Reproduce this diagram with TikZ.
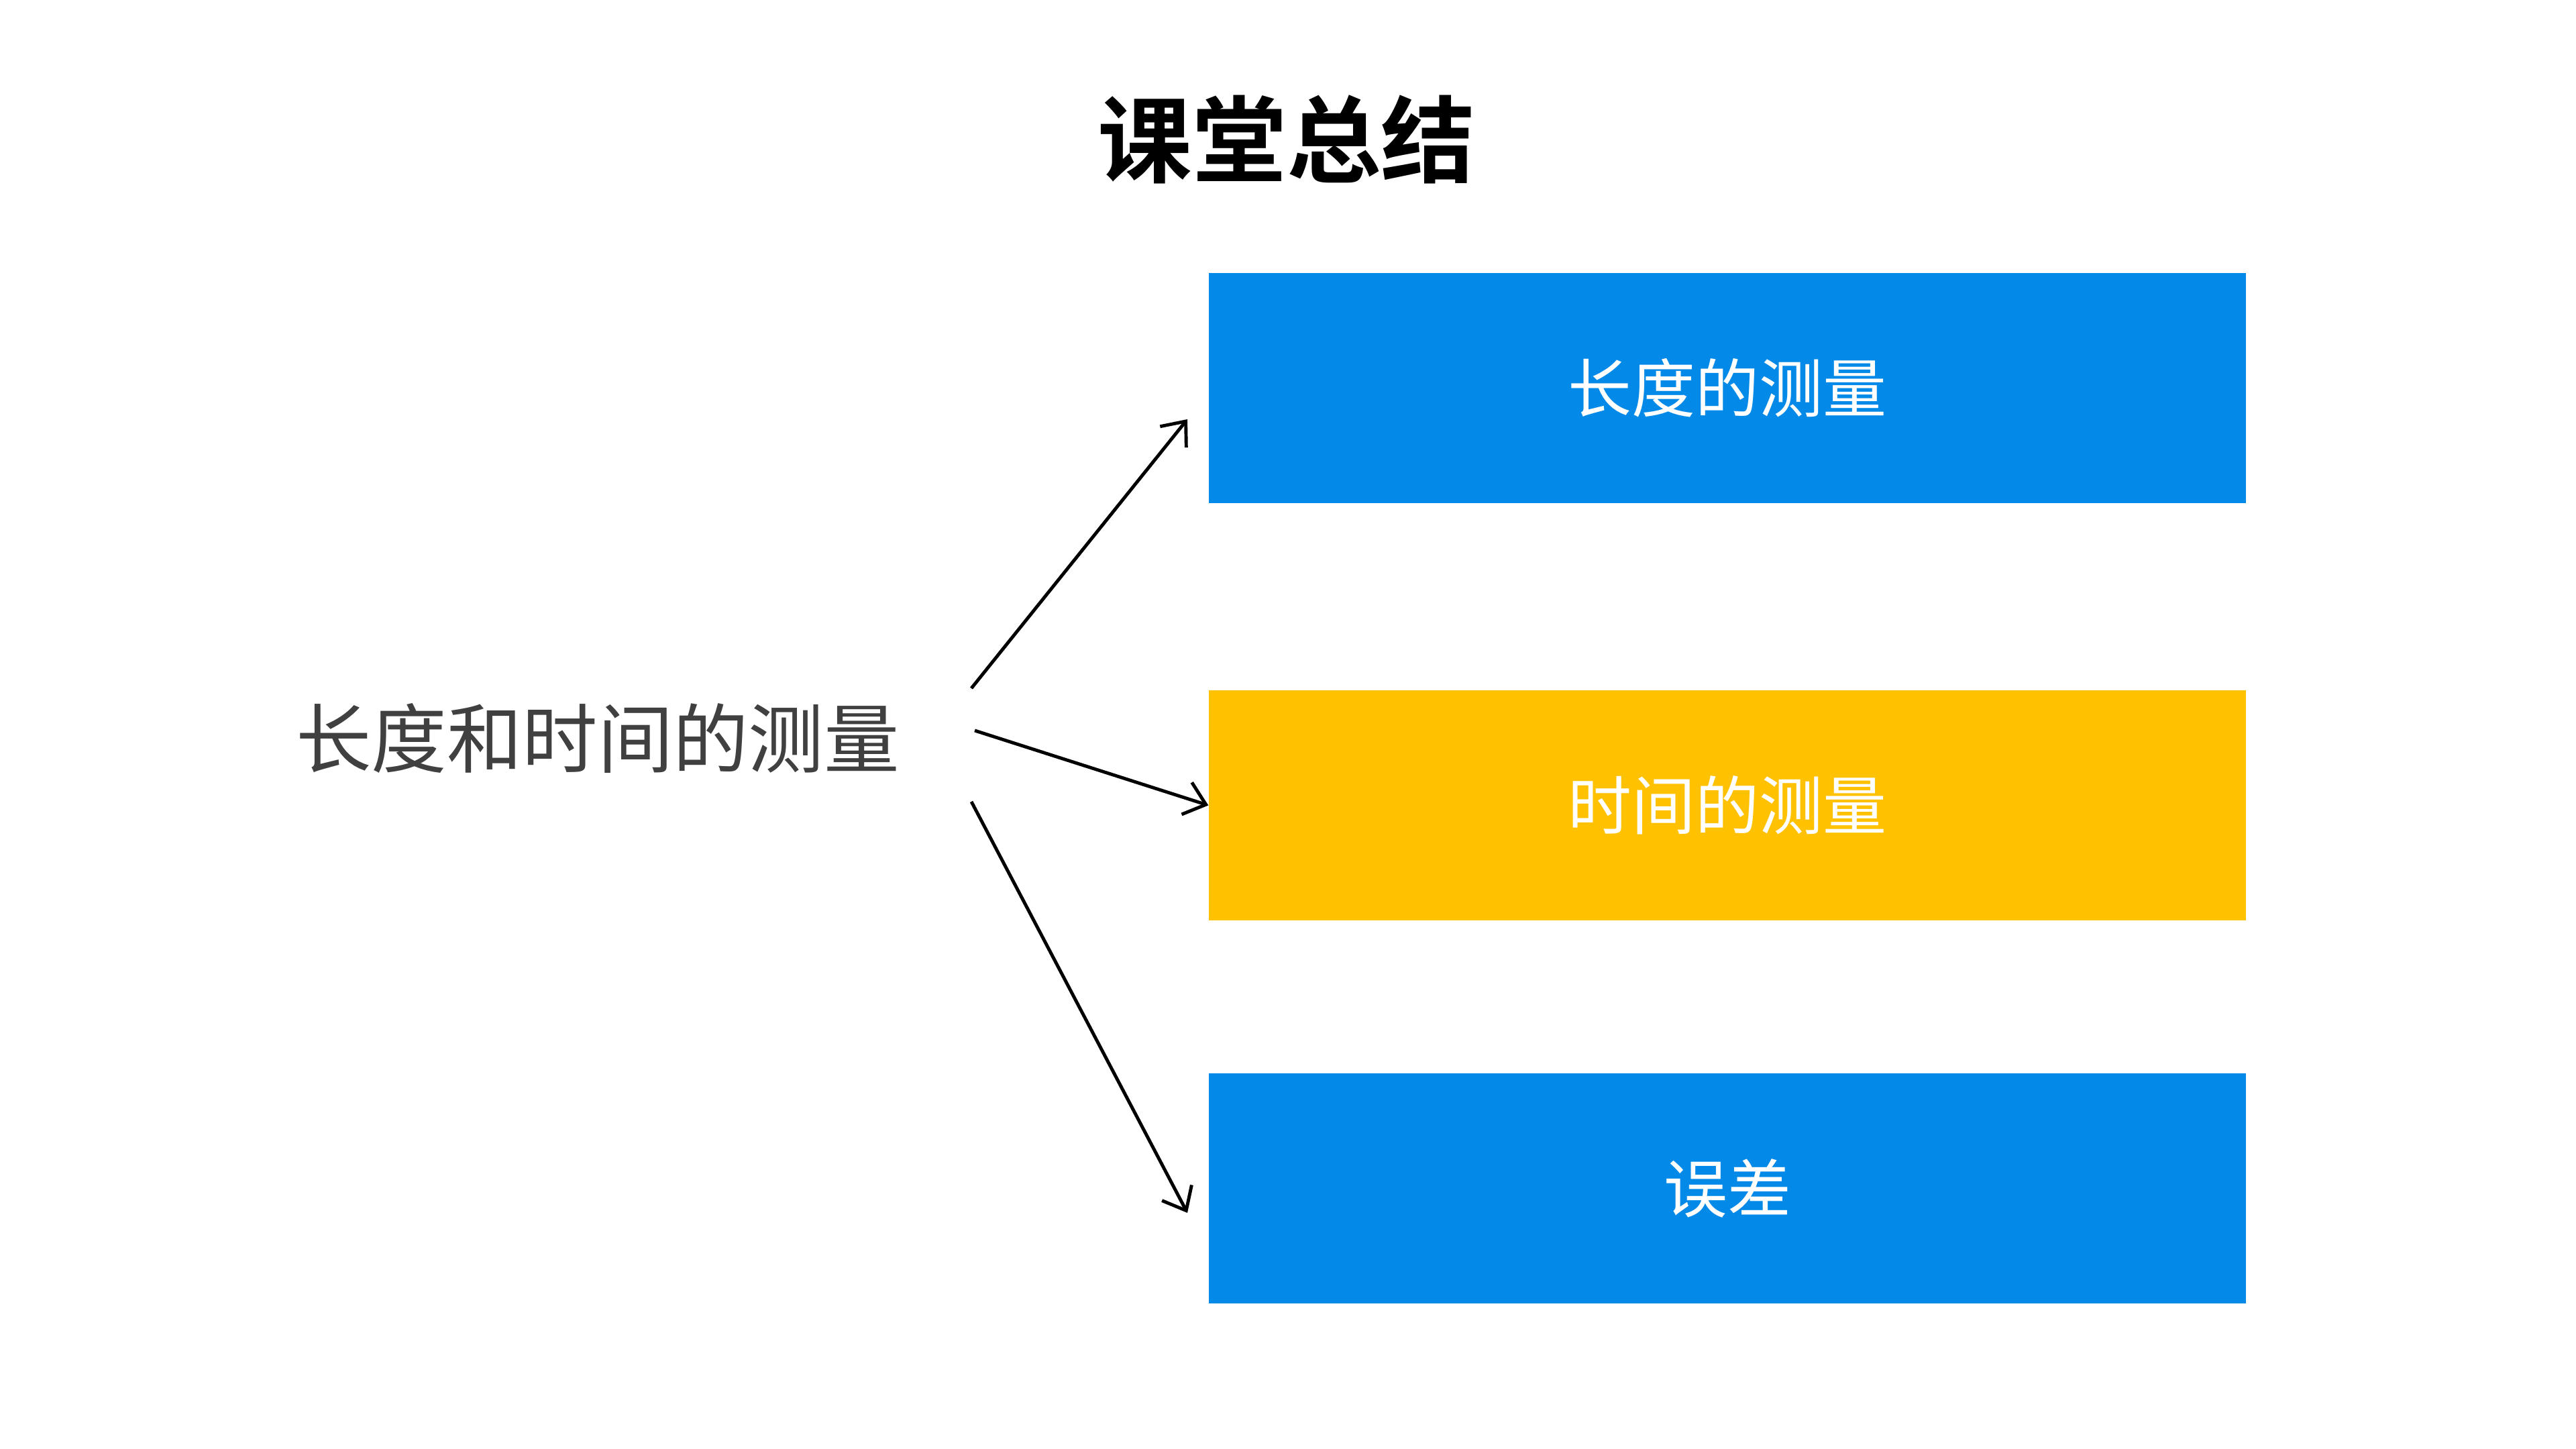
\documentclass[tikz,border=0pt]{standalone}
\usepackage{fontspec}
\newfontfamily\cjk{Noto Sans CJK SC}
\newfontfamily\cjkbold{Noto Sans CJK SC Bold}
\usetikzlibrary{arrows.meta}
\definecolor{boxblue}{RGB}{3,137,232}
\definecolor{boxyellow}{RGB}{255,193,0}
\definecolor{srcgrey}{RGB}{64,64,64}
\tikzset{
  box/.style={rectangle, minimum width=15.46cm, minimum height=3.43cm, inner sep=0pt, text=white, font=\cjk\fontsize{27}{32}\selectfont},
  conn/.style={line width=1.4pt, -{Straight Barb[length=0.3cm, width=0.5cm, line width=1.4pt]}},
}
\begin{document}
\begin{tikzpicture}
\useasboundingbox[fill=white] (0,0) rectangle (38.4,-21.6);
\node[font=\cjkbold\fontsize{40}{48}\selectfont] (title) at (19.18,-2.08) {课堂总结};
\node[text=srcgrey, font=\cjk\fontsize{32}{38}\selectfont] (src) at (8.91,-11.0) {长度和时间的测量};
\node[box, fill=boxblue] (b1) at (25.75,-5.785) {长度的测量};
\node[box, fill=boxyellow] (b2) at (25.75,-12.005) {时间的测量};
\node[box, fill=boxblue] (b3) at (25.75,-17.71) {误差};
\coordinate (s1) at (14.48,-10.26);
\coordinate (s2) at (14.53,-10.89);
\coordinate (s3) at (14.48,-11.95);
\coordinate (e1) at (17.70,-6.25);
\coordinate (e3) at (17.70,-18.08);
\draw[conn] (s1) -- (e1);
\draw[conn] (s2) -- (b2.west);
\draw[conn] (s3) -- (e3);
\end{tikzpicture}
\end{document}
